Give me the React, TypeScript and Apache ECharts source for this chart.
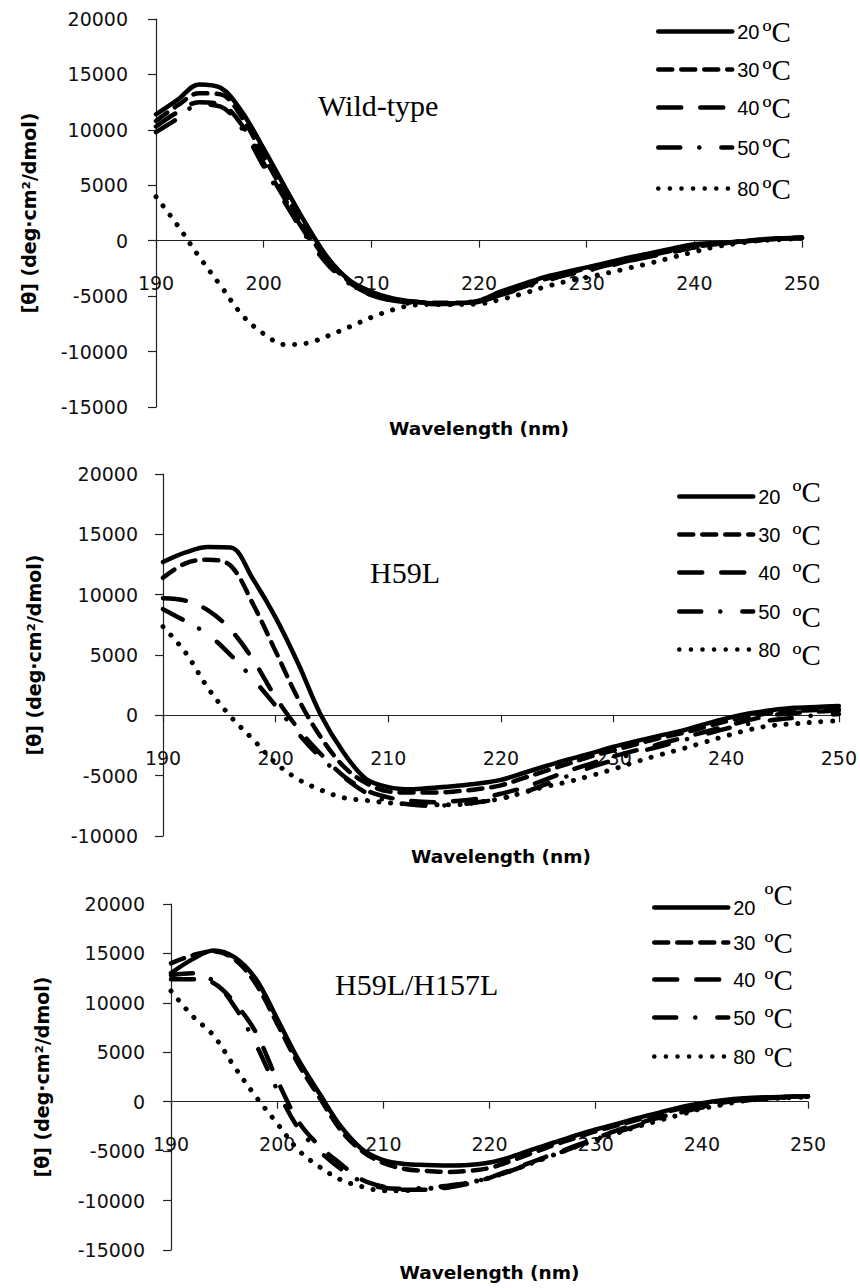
import React, { useEffect, useRef } from "react";
import * as echarts from "echarts";

// Wavelength grid (nm)
const wavelengths = [190, 192, 194, 196, 198, 200, 202, 204, 206, 208, 210, 212, 214, 216, 218, 220, 222, 224, 226, 228, 230, 232, 234, 236, 238, 240, 242, 244, 246, 248, 250];

const temps = ["20 ºC", "30 ºC", "40 ºC", "50 ºC", "80 ºC"];
const panelTitles = ["Wild-type", "H59L", "H59L/H157L"];
const xName = "Wavelength (nm)";
const yName = "[θ] (deg·cm²/dmol)";

// Wild-type
const wt20 = [11400, 12700, 14100, 13800, 11600, 8300, 4800, 1400, -1600, -3600, -4600, -5200, -5500, -5650, -5650, -5400, -4600, -3950, -3300, -2850, -2400, -1950, -1500, -1100, -700, -320, -200, -100, 100, 220, 300];
const wt30 = [10800, 12200, 13300, 13200, 11100, 7600, 4200, 900, -1900, -3700, -4800, -5300, -5500, -5600, -5600, -5450, -4800, -4100, -3500, -3000, -2500, -2100, -1700, -1300, -900, -550, -300, -100, 50, 200, 300];
const wt40 = [10300, 11600, 12500, 12300, 10400, 7000, 3700, 500, -2100, -3800, -4900, -5400, -5600, -5700, -5700, -5500, -4900, -4200, -3600, -3100, -2700, -2200, -1800, -1400, -1000, -600, -300, -100, 50, 200, 250];
const wt50 = [9800, 11000, 12300, 12100, 10100, 6700, 3400, 300, -2200, -3900, -4900, -5400, -5700, -5700, -5600, -5400, -4900, -4300, -3700, -3100, -2700, -2300, -1800, -1400, -1000, -600, -300, -100, 50, 150, 250];
const wt80 = [3970, 1390, -1440, -4050, -6700, -8400, -9370, -9250, -8570, -7760, -6920, -6230, -5800, -5750, -5750, -5700, -5300, -4800, -4200, -3700, -3300, -2900, -2450, -2000, -1500, -1000, -550, -250, 0, 100, 200];

// H59L
const h20 = [12700, 13500, 13950, 13900, 11270, 8100, 4300, 50, -3040, -5250, -5950, -6130, -6000, -5850, -5650, -5350, -4780, -4200, -3650, -3150, -2600, -2150, -1700, -1300, -750, -250, 150, 420, 620, 700, 770];
const h30 = [11400, 12600, 12900, 12400, 9200, 5300, 1370, -1800, -4200, -5600, -6300, -6400, -6400, -6300, -6100, -5800, -5200, -4600, -4000, -3400, -2900, -2400, -1900, -1500, -1000, -500, -100, 200, 350, 450, 500];
const h40 = [9700, 9500, 8700, 7100, 4600, 1500, -1100, -3200, -5000, -6200, -6800, -7100, -7200, -7100, -6900, -6500, -6000, -5300, -4600, -4000, -3400, -2900, -2400, -1900, -1400, -900, -400, 0, 200, 300, 400];
const h50 = [8800, 7800, 6700, 5000, 3000, 800, -1500, -3500, -5100, -6400, -7100, -7400, -7500, -7400, -7200, -6900, -6400, -5700, -5000, -4300, -3700, -3100, -2600, -2100, -1600, -1100, -700, -400, -200, 0, 100];
const h80 = [7350, 5200, 2250, -100, -2000, -3950, -5300, -6180, -6820, -7050, -7250, -7350, -7400, -7400, -7200, -6900, -6400, -5900, -5500, -5000, -4450, -3850, -3300, -2800, -2250, -1700, -1200, -850, -700, -550, -450];

// H59L/H157L
const d20 = [13000, 14400, 15300, 14600, 12400, 8400, 4250, 800, -2500, -4800, -5900, -6300, -6400, -6450, -6400, -6150, -5600, -4850, -4150, -3450, -2800, -2250, -1650, -1100, -550, -150, 150, 350, 450, 500, 550];
const d30 = [14000, 14800, 15200, 14400, 11900, 7900, 3800, 400, -2900, -5000, -6200, -6800, -7000, -7100, -7000, -6700, -6000, -5200, -4400, -3700, -3000, -2400, -1800, -1200, -700, -250, 100, 300, 400, 500, 550];
const d40 = [12400, 12400, 12000, 10000, 7000, 2200, -2000, -4500, -6300, -7900, -8600, -8900, -8900, -8700, -8300, -7700, -6900, -6100, -5300, -4500, -3700, -2900, -2200, -1600, -1000, -500, -100, 200, 350, 450, 500];
const d50 = [12800, 13000, 12200, 9600, 5800, 1200, -2700, -5000, -6800, -8100, -8700, -8800, -8700, -8500, -8200, -7700, -7000, -6200, -5400, -4600, -3800, -3100, -2400, -1700, -1100, -600, -200, 100, 300, 400, 500];
const d80 = [11200, 8700, 6700, 3500, 500, -2200, -4900, -6600, -7900, -8600, -9000, -9000, -8800, -8600, -8200, -7700, -7000, -6200, -5400, -4600, -3900, -3200, -2500, -1900, -1300, -700, -300, 100, 250, 400, 450];

const panelSeries = [
  [wt20, wt30, wt40, wt50, wt80],
  [h20, h30, h40, h50, h80],
  [d20, d30, d40, d50, d80],
];
const yMins = [-15000, -10000, -15000];
const yMaxs = [20000, 20000, 20000];

// layout (pixels)
const grids = [
  { left: 156, top: 19, width: 646, height: 388 },
  { left: 163, top: 474, width: 676, height: 362 },
  { left: 171, top: 904, width: 637, height: 346 },
];
const legendLefts = [651, 672, 647];
const legendRowCenters = [
  [32, 70, 108, 148, 189],
  [497, 535, 573, 612, 650],
  [908, 943, 980, 1018, 1057],
];
// vertical shift of the "ºC" part of each legend label (negative = raised)
const legendUnitShift = [
  [0, 0, 0, 0, 0],
  [-5, 0, 0, 5, 5],
  [-13, 0, 0, 0, 0],
];
const legendUnitGap = [3, 12, 9];

const lineStyles: any[] = [
  { type: "solid", width: 4.5, cap: "round", color: "#000" },
  { type: [14, 9], width: 4.5, cap: "round", color: "#000" },
  { type: [23, 19], width: 4.5, cap: "round", color: "#000" },
  { type: [22, 19, 0.1, 22], width: 4.5, cap: "round", color: "#000" },
  { type: [0.1, 11.5], width: 5, cap: "round", color: "#000" },
];

const SANS = "DejaVu Sans";
const SERIF = "Liberation Serif";

export default function App() {
  const ref = useRef<HTMLDivElement>(null);
  useEffect(() => {
    if (!ref.current) return;
    const chart = echarts.init(ref.current, null, { renderer: "svg" });

    // distance from the grid bottom up to the zero line, so the x axis sits at y = 0
    const zeroOffsets = grids.map((g, i) => (g.height * (0 - yMins[i])) / (yMaxs[i] - yMins[i]));

    const xAxes = grids.map((g, i) => ({
      type: "value",
      gridIndex: i,
      min: 190,
      max: 250,
      interval: 10,
      offset: -zeroOffsets[i],
      axisLine: { show: true, onZero: false, lineStyle: { color: "#222", width: 1.2 } },
      axisTick: { show: true, length: 7, lineStyle: { color: "#222", width: 1.2 } },
      axisLabel: { margin: 33, fontFamily: SANS, fontSize: 19, color: "#111" },
      splitLine: { show: false },
      name: xName,
      nameLocation: "middle",
      nameGap: [178, 132, 161][i],
      nameTextStyle: { fontFamily: SANS, fontWeight: "bold", fontSize: 18.5, color: "#000" },
    }));
    const yAxes = grids.map((g, i) => ({
      type: "value",
      gridIndex: i,
      min: yMins[i],
      max: yMaxs[i],
      interval: 5000,
      axisLine: { show: true, onZero: false, lineStyle: { color: "#222", width: 1.2 } },
      axisTick: { show: true, length: 8, lineStyle: { color: "#222", width: 1.2 } },
      axisLabel: { margin: [28, 25, 26][i], fontFamily: SANS, fontSize: 19, color: "#111", formatter: (v: number) => String(v) },
      splitLine: { show: false },
      name: yName,
      nameLocation: "middle",
      nameGap: [118, 120, 120][i],
      nameTextStyle: { fontFamily: SANS, fontWeight: "bold", fontSize: 19, color: "#000" },
    }));

    const series: any[] = [];
    panelSeries.forEach((arrs, p) => {
      arrs.forEach((vals, k) => {
        series.push({
          type: "line",
          name: temps[k],
          xAxisIndex: p,
          yAxisIndex: p,
          data: wavelengths.map((w, j) => [w, vals[j]]),
          symbol: "none",
          showSymbol: false,
          smooth: 0.35,
          lineStyle: lineStyles[k],
          itemStyle: { color: "#000" },
          z: 5 - k,
        });
      });
    });

    // one legend component per row, so each row can be placed exactly
    const legends: any[] = [];
    legendRowCenters.forEach((centers, p) => {
      centers.forEach((cy, k) => {
        const shift = legendUnitShift[p][k];
        const P = Math.abs(shift) * 2;
        const pad = shift < 0 ? [0, 0, P, legendUnitGap[p]] : [P, 0, 0, legendUnitGap[p]];
        legends.push({
          orient: "vertical",
          left: legendLefts[p],
          top: cy - 20 - P / 2,
          itemWidth: 74,
          itemHeight: 26,
          selectedMode: false,
          data: [temps[k]],
          lineStyle: { width: 4.5 },
          itemStyle: { opacity: 0 },
          formatter: (name: string) => `{n|${name.split(" ")[0]}}{c|ºC}`,
          textStyle: {
            fontFamily: "Liberation Sans",
            fontSize: 20,
            color: "#000",
            rich: {
              n: { fontFamily: "Liberation Sans", fontSize: 20, lineHeight: 26, color: "#000" },
              c: { fontFamily: SERIF, fontSize: 29, lineHeight: 26, color: "#000", padding: pad },
            },
          },
        });
      });
    });

    const titlePos = [
      { x: 318, y: 105 },
      { x: 370, y: 572 },
      { x: 335, y: 984 },
    ];
    const graphic = panelTitles.map((t, i) => ({
      type: "text",
      x: titlePos[i].x,
      y: titlePos[i].y,
      silent: true,
      style: { text: t, fontFamily: SERIF, fontSize: 30, fill: "#000", align: "left", verticalAlign: "middle" },
    }));

    chart.setOption({
      animation: false,
      backgroundColor: "#fff",
      grid: grids.map((g) => ({ ...g, containLabel: false })),
      xAxis: xAxes,
      yAxis: yAxes,
      legend: legends,
      graphic,
      series,
    });
    return () => chart.dispose();
  }, []);
  return (
    <div
      ref={ref}
      style={{ position: "absolute", left: 0, top: 0, width: 860, height: 1288, background: "#fff" }}
    />
  );
}
